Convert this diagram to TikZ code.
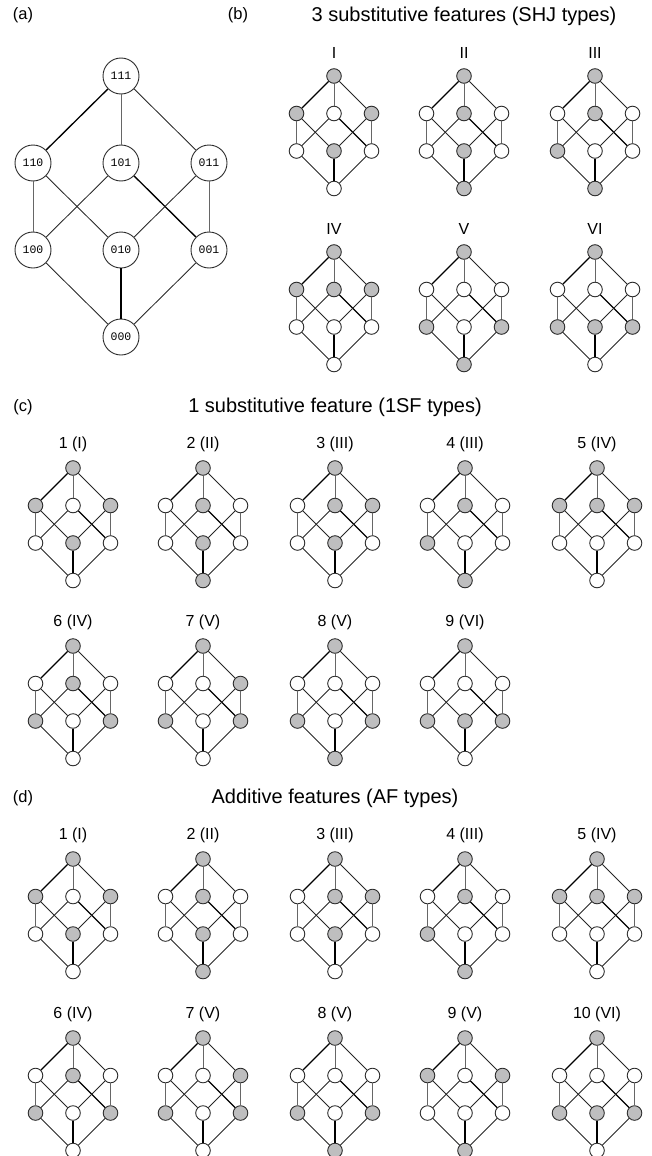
\documentclass[tikz,border=0pt]{standalone}
\usepackage{fontspec}
\setmainfont{Liberation Sans}
\newfontfamily\digitfont{Liberation Mono}
\definecolor{gry}{RGB}{190,190,191}
\definecolor{bdr}{RGB}{45,45,45}
\tikzset{
  sn/.style={circle,draw=bdr,line width=0.9pt,fill=white,minimum size=14.6pt,inner sep=0pt},
  bn/.style={circle,draw=bdr,line width=0.9pt,fill=white,minimum size=36pt,inner sep=0pt,font=\digitfont\fontsize{11.5}{12}\selectfont},
  gf/.style={fill=gry},
  ln/.style={draw=black!85,line width=0.85pt},
  vln/.style={draw=black!60,line width=0.85pt},
  thk/.style={draw=black,line width=1.35pt},
  lab/.style={inner sep=0pt,font=\fontsize{16}{17}\selectfont},
  plab/.style={inner sep=0pt,font=\fontsize{16.5}{17}\selectfont},
  ttl/.style={inner sep=0pt,font=\fontsize{20}{21}\selectfont},
  greys/.style={s#1/.style=gf},
}
\newcommand{\lat}[5]{%
\begin{scope}[shift={(#2,#3)}, s111/.style={}, s110/.style={}, s101/.style={}, s011/.style={},
  s100/.style={}, s010/.style={}, s001/.style={}, s000/.style={}, greys/.list={#5}]
\node[lab] (#1-lab) at (0,-23.5) {#4};
\node[sn,s111] (#1-111) at (0,0) {};
\node[sn,s110] (#1-110) at (-37.5,37.5) {};
\node[sn,s101] (#1-101) at (0,37.5) {};
\node[sn,s011] (#1-011) at (37.5,37.5) {};
\node[sn,s100] (#1-100) at (-37.5,75) {};
\node[sn,s010] (#1-010) at (0,75) {};
\node[sn,s001] (#1-001) at (37.5,75) {};
\node[sn,s000] (#1-000) at (0,112.5) {};
\draw[thk] (#1-111) -- (#1-110);
\draw[vln] (#1-111) -- (#1-101);
\draw[ln] (#1-111) -- (#1-011);
\draw[vln] (#1-110) -- (#1-100);
\draw[ln] (#1-110) -- (#1-010);
\draw[ln] (#1-101) -- (#1-100);
\draw[thk] (#1-101) -- (#1-001);
\draw[ln] (#1-011) -- (#1-010);
\draw[vln] (#1-011) -- (#1-001);
\draw[ln] (#1-100) -- (#1-000);
\draw[thk] (#1-010) -- (#1-000);
\draw[ln] (#1-001) -- (#1-000);
\end{scope}}
\begin{document}
\begin{tikzpicture}[x=1pt,y=-1pt]
\useasboundingbox (0,0) rectangle (652,1156);
% headings
\node[plab] (la) at (23,15) {(a)};
\node[plab] (lb) at (238,15) {(b)};
\node[ttl] (tb) at (464,16.5) {3 substitutive features (SHJ types)};
\node[plab] (lc) at (23,407) {(c)};
\node[ttl] (tc) at (335,407) {1 substitutive feature (1SF types)};
\node[plab] (ld) at (23,798) {(d)};
\node[ttl] (td) at (335,798) {Additive features (AF types)};
% panel (a)
\node[bn] (a111) at (121,76) {111};
\node[bn] (a110) at (33,163) {110};
\node[bn] (a101) at (121,163) {101};
\node[bn] (a011) at (209,163) {011};
\node[bn] (a100) at (33,250) {100};
\node[bn] (a010) at (121,250) {010};
\node[bn] (a001) at (209,250) {001};
\node[bn] (a000) at (121,337) {000};
\draw[thk] (a111) -- (a110);
\draw[vln] (a111) -- (a101);
\draw[ln] (a111) -- (a011);
\draw[vln] (a110) -- (a100);
\draw[ln] (a110) -- (a010);
\draw[ln] (a101) -- (a100);
\draw[thk] (a101) -- (a001);
\draw[ln] (a011) -- (a010);
\draw[vln] (a011) -- (a001);
\draw[ln] (a100) -- (a000);
\draw[thk] (a010) -- (a000);
\draw[ln] (a001) -- (a000);
% panel (b)
\lat{b1}{334}{76}{I}{111,110,011,010}
\lat{b2}{464}{76}{II}{111,101,010,000}
\lat{b3}{595}{76}{III}{111,101,100,000}
\lat{b4}{334}{252}{IV}{111,110,101,011}
\lat{b5}{464}{252}{V}{111,100,001,000}
\lat{b6}{595}{252}{VI}{111,100,010,001}
% panel (c)
\lat{c1}{73}{468}{1 (I)}{111,110,011,010}
\lat{c2}{203}{468}{2 (II)}{111,101,010,000}
\lat{c3}{335}{468}{3 (III)}{111,101,011,010}
\lat{c4}{465}{468}{4 (III)}{111,101,100,000}
\lat{c5}{597}{468}{5 (IV)}{111,110,101,011}
\lat{c6}{73}{646}{6 (IV)}{111,101,100,001}
\lat{c7}{203}{646}{7 (V)}{111,011,100,001}
\lat{c8}{335}{646}{8 (V)}{111,100,001,000}
\lat{c9}{465}{646}{9 (VI)}{111,100,010,001}
% panel (d)
\lat{d1}{73}{859}{1 (I)}{111,110,011,010}
\lat{d2}{203}{859}{2 (II)}{111,101,010,000}
\lat{d3}{335}{859}{3 (III)}{111,101,011,010}
\lat{d4}{465}{859}{4 (III)}{111,101,100,000}
\lat{d5}{597}{859}{5 (IV)}{111,110,101,011}
\lat{d6}{73}{1038}{6 (IV)}{111,101,100,001}
\lat{d7}{203}{1038}{7 (V)}{111,011,100,001}
\lat{d8}{335}{1038}{8 (V)}{111,100,001,000}
\lat{d9}{465}{1038}{9 (V)}{111,110,011,000}
\lat{d10}{597}{1038}{10 (VI)}{111,100,010,001}
\end{tikzpicture}
\end{document}
